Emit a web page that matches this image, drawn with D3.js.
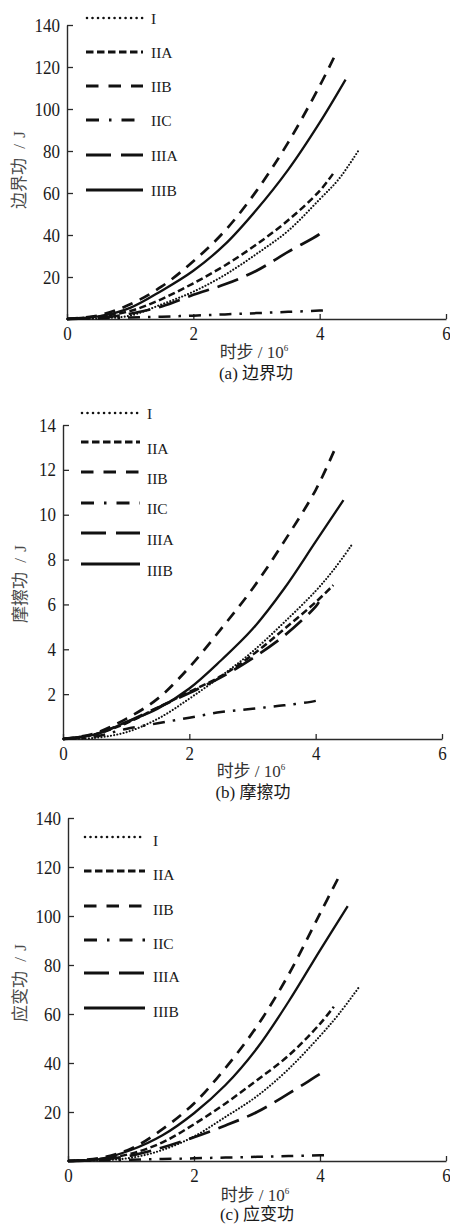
<!DOCTYPE html>
<html>
<head>
<meta charset="utf-8">
<script src="https://cdn.jsdelivr.net/npm/d3@7"></script>
<style>
  html, body { margin: 0; padding: 0; background: #fff; }
  svg { display: block; }
  .lab { font-family: "Liberation Serif", "Noto Sans CJK SC", serif; font-size: 17px; fill: #333; }
  .leg { font-family: "Liberation Serif", serif; font-size: 15.5px; fill: #1a1a1a; }
</style>
</head>
<body>
<div id="chart"></div>
<script>
// ---- Data: [时步 (10^6), 功 (J)]
const seriesNames = ['I', 'IIA', 'IIB', 'IIC', 'IIIA', 'IIIB'];
const xTicks = [0, 2, 4, 6];

// (a) 边界功
const boundaryI    = [[0,0],[0.5,0.3],[1,1.6],[1.5,7],[2,13],[2.5,21],[3,31],[3.5,42],[4,57],[4.3,66.5],[4.62,80.5]];
const boundaryIIA  = [[0,0],[0.5,1.2],[1,3.8],[1.5,9.5],[2,17],[2.5,25.5],[3,35.5],[3.5,47],[4,61],[4.22,69.5]];
const boundaryIIB  = [[0,0],[0.5,1.7],[1,7],[1.5,15.5],[2,27.5],[2.5,42],[3,61],[3.5,84],[4,111],[4.25,126]];
const boundaryIIC  = [[0,0],[0.5,0.3],[1,0.7],[1.5,1.1],[2,1.6],[2.5,2.2],[3,2.8],[3.5,3.4],[4,4.0],[4.14,4.3]];
const boundaryIIIA = [[0,0],[0.5,0.5],[1,2.5],[1.5,6],[2,11.5],[2.5,16.5],[3,23],[3.5,32],[4,40.5],[4.06,42.5]];
const boundaryIIIB = [[0,0],[0.5,1.2],[1,5.3],[1.5,13.5],[2,23],[2.5,35.5],[3,52],[3.5,71],[4,93.5],[4.41,114]];

// (b) 摩擦功
const frictionI    = [[0,0],[0.5,0.05],[1,0.3],[1.5,0.9],[2,1.8],[2.5,2.8],[3,3.9],[3.5,5.2],[4,6.6],[4.3,7.6],[4.57,8.65]];
const frictionIIA  = [[0,0],[0.5,0.2],[1,0.7],[1.5,1.4],[2,2.1],[2.5,2.8],[3,3.75],[3.5,4.9],[4,6.1],[4.28,6.86]];
const frictionIIB  = [[0,0],[0.5,0.25],[1,0.9],[1.5,1.8],[2,3.2],[2.5,4.9],[3,6.7],[3.5,8.8],[4,11.1],[4.3,12.9]];
const frictionIIC  = [[0,0],[0.5,0.1],[1,0.45],[1.5,0.7],[2,0.95],[2.5,1.2],[3,1.35],[3.5,1.5],[4,1.7],[4.12,1.8]];
const frictionIIIA = [[0,0],[0.5,0.2],[1,0.75],[1.5,1.4],[2,2.05],[2.5,2.75],[3,3.6],[3.5,4.6],[4,5.9],[4.05,6.1]];
const frictionIIIB = [[0,0],[0.5,0.2],[1,0.75],[1.5,1.35],[2,2.25],[2.5,3.5],[3,4.9],[3.5,6.7],[4,8.8],[4.44,10.65]];

// (c) 应变功
const strainI    = [[0,0],[0.5,0.3],[1,1.3],[1.5,4.5],[2,10],[2.5,18],[3,26.5],[3.5,37.5],[4,51],[4.3,60],[4.62,71]];
const strainIIA  = [[0,0],[0.5,0.8],[1,3],[1.5,7.6],[2,15],[2.5,23.5],[3,33],[3.5,43],[4,56],[4.22,63]];
const strainIIB  = [[0,0],[0.5,1.2],[1,5],[1.5,13],[2,23.5],[2.5,38],[3,55],[3.5,76],[4,101],[4.3,116]];
const strainIIC  = [[0,0],[0.5,0.2],[1,0.5],[1.5,0.8],[2,1.1],[2.5,1.4],[3,1.7],[3.5,2],[4,2.3],[4.14,2.5]];
const strainIIIA = [[0,0],[0.5,0.5],[1,2.2],[1.5,5.5],[2,9.7],[2.5,14.5],[3,20],[3.5,27.5],[4,35.5],[4.08,36.7]];
const strainIIIB = [[0,0],[0.5,0.8],[1,4.5],[1.5,10.5],[2,19.5],[2.5,31],[3,46],[3.5,65],[4,86],[4.44,104]];

// ---- Line styles per series
const styles = {
  'I':    { dash: '0.01,3.2',    legendDash: '0.01,5.5', width: 2.1, cap: 'round' },
  'IIA':  { dash: '7,3.5',       legendDash: '7.5,3.5', width: 2.5, cap: 'butt' },
  'IIB':  { dash: '11,8',        legendDash: '12.5,10', width: 2.7, cap: 'butt' },
  'IIC':  { dash: '12,8,2.5,8',  legendDash: '13,10,2.5,10', width: 2.5, cap: 'butt' },
  'IIIA': { dash: '22,9',        legendDash: '25,10', width: 2.7, cap: 'butt' },
  'IIIB': { dash: null,          legendDash: null, width: 2.3, cap: 'butt' }
};

const panels = [
  { series: [boundaryI, boundaryIIA, boundaryIIB, boundaryIIC, boundaryIIIA, boundaryIIIB],
    yMax: 140, yTicks: [20, 40, 60, 80, 100, 120, 140],
    x0: 67, x1: 446, yTop: 25, yBottom: 319,
    legend: { lx0: 86, lx1: 143, tx: 151, rows: [18, 52, 86, 120, 155, 190], dy: [0, 0, 0, 0, 0, 0] },
    yLabel: '边界功', yLabelPos: [19, 170],
    xLabelY: 358, xLabelX: 254, caption: '(a) 边界功', captionY: 379 },
  { series: [frictionI, frictionIIA, frictionIIB, frictionIIC, frictionIIIA, frictionIIIB],
    yMax: 14, yTicks: [2, 4, 6, 8, 10, 12, 14],
    x0: 63, x1: 442, yTop: 425, yBottom: 739,
    legend: { lx0: 81, lx1: 140, tx: 147, rows: [413, 442, 472, 503, 533, 564], dy: [0, 6, 6, 5, 6, 6] },
    yLabel: '摩擦功', yLabelPos: [20, 584],
    xLabelY: 777, xLabelX: 251, caption: '(b) 摩擦功', captionY: 798 },
  { series: [strainI, strainIIA, strainIIB, strainIIC, strainIIIA, strainIIIB],
    yMax: 140, yTicks: [20, 40, 60, 80, 100, 120, 140],
    x0: 68, x1: 446, yTop: 818, yBottom: 1161,
    legend: { lx0: 84, lx1: 145, tx: 153, rows: [837, 871, 906, 940, 973, 1008], dy: [3, 3, 3, 3, 3, 3] },
    yLabel: '应变功', yLabelPos: [20, 983],
    xLabelY: 1201, xLabelX: 255, caption: '(c) 应变功', captionY: 1220 }
];

const svg = d3.select('#chart').append('svg')
  .attr('width', 450).attr('height', 1227);

panels.forEach(p => {
  const x = d3.scaleLinear().domain([0, 6]).range([p.x0, p.x1]);
  const y = d3.scaleLinear().domain([0, p.yMax]).range([p.yBottom, p.yTop]);
  const g = svg.append('g');

  // ---- Axes
  const xAxis = g.append('g')
    .attr('transform', `translate(0,${p.yBottom})`)
    .call(d3.axisBottom(x).tickValues(xTicks).tickSize(-5).tickSizeOuter(0).tickPadding(7).tickFormat(d3.format('d')));
  const yAxis = g.append('g')
    .attr('transform', `translate(${p.x0},0)`)
    .call(d3.axisLeft(y).tickValues(p.yTicks).tickSize(-6).tickSizeOuter(0).tickPadding(7).tickFormat(d3.format('d')));
  [xAxis, yAxis].forEach(a => {
    a.attr('font-family', '"Liberation Serif", serif').attr('font-size', 17);
    a.selectAll('.tick text').attr('fill', '#1a1a1a').attr('transform', 'scale(1,1.12)');
    a.select('.domain').attr('stroke', '#2a2a2a').attr('stroke-width', 1.4);
    a.selectAll('.tick line').attr('stroke', '#2a2a2a').attr('stroke-width', 1.3);
  });

  // ---- Curves
  const line = d3.line().x(d => x(d[0])).y(d => y(d[1])).curve(d3.curveCatmullRom.alpha(0.5));
  p.series.forEach((s, i) => {
    const st = styles[seriesNames[i]];
    g.append('path').datum(s)
      .attr('d', line)
      .attr('fill', 'none')
      .attr('stroke', '#111')
      .attr('stroke-width', st.width)
      .attr('stroke-dasharray', st.dash)
      .attr('stroke-linecap', st.cap);
  });

  // ---- Legend
  const lg = p.legend;
  seriesNames.forEach((name, i) => {
    const st = styles[name];
    g.append('line')
      .attr('x1', lg.lx0 + (name === 'I' ? 1 : 0)).attr('x2', lg.lx1)
      .attr('y1', lg.rows[i]).attr('y2', lg.rows[i])
      .attr('stroke', '#111')
      .attr('stroke-width', st.width + 0.5)
      .attr('stroke-dasharray', st.legendDash)
      .attr('stroke-linecap', st.cap);
    g.append('text').attr('class', 'leg')
      .attr('x', lg.tx).attr('y', lg.rows[i] + lg.dy[i] + 5.5)
      .text(name);
  });

  // ---- Labels
  const yl = g.append('text').attr('class', 'lab')
    .attr('transform', `translate(${p.yLabelPos[0]},${p.yLabelPos[1]}) rotate(-90)`)
    .attr('text-anchor', 'middle').attr('dy', '0.35em')
    .style('fill', '#4a4a4a');
  yl.append('tspan').text(p.yLabel);
  yl.append('tspan').attr('dx', 5).text(' /');
  yl.append('tspan').attr('dx', 2).text(' J');

  const xl = g.append('text').attr('class', 'lab')
    .attr('x', p.xLabelX).attr('y', p.xLabelY)
    .attr('text-anchor', 'middle');
  xl.append('tspan').text('时步 / 10');
  xl.append('tspan').attr('dy', -7).style('font-size', '9px').text('6');

  g.append('text').attr('class', 'lab')
    .attr('x', p.xLabelX + 2).attr('y', p.captionY)
    .attr('text-anchor', 'middle')
    .style('fill', '#1a1a1a')
    .text(p.caption);
});
</script>
</body>
</html>
